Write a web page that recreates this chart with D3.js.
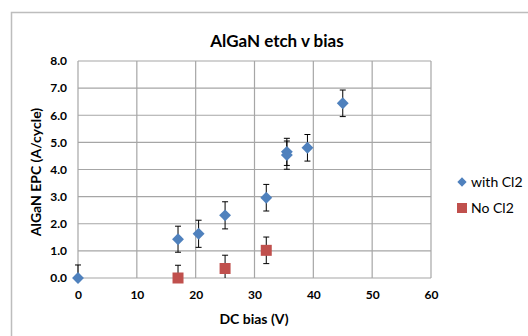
<!DOCTYPE html>
<html>
<head>
<meta charset="utf-8">
<script src="https://cdn.jsdelivr.net/npm/d3@7"></script>
<style>
  body { margin: 0; background: #fff; }
  svg { display: block; font-family: Lato, "Open Sans", sans-serif; }
</style>
</head>
<body>
<div id="chart"></div>
<script>
// with Cl2
const withBias = [0, 17, 20.5, 25, 32, 35.5, 35.5, 39, 45];
const withEpc  = [0, 1.43, 1.63, 2.31, 2.96, 4.65, 4.53, 4.8, 6.44];
const withErr  = [0.48, 0.48, 0.5, 0.5, 0.49, 0.5, 0.52, 0.49, 0.49];
// no Cl2
const noBias = [17, 25, 32];
const noEpc  = [0, 0.35, 1.02];
const noErr  = [0.47, 0.49, 0.49];

const xTicks = [0, 10, 20, 30, 40, 50, 60];
const yTicks = [0, 1, 2, 3, 4, 5, 6, 7, 8];

const W = 528, H = 336;
const margin = {top: 61, right: 97, bottom: 58, left: 78};
const width = W - margin.left - margin.right;
const height = H - margin.top - margin.bottom;

const svg = d3.select("#chart")
    .append("svg")
    .attr("width", W)
    .attr("height", H);

// outer chart frame
svg.append("rect")
    .attr("x", 11.5).attr("y", 12.5)
    .attr("width", 530).attr("height", 340)
    .attr("fill", "none")
    .attr("stroke", "#bdbdbd")
    .attr("stroke-width", 1.5);

svg.append("text")
    .attr("x", 277).attr("y", 47)
    .attr("text-anchor", "middle")
    .attr("font-size", 17).attr("font-weight", "bold")
    .text("AlGaN etch v bias");

const g = svg.append("g")
    .attr("transform", `translate(${margin.left},${margin.top})`);

const x = d3.scaleLinear().domain([0, 60]).range([0, width]);
const y = d3.scaleLinear().domain([0, 8]).range([height, 0]);

// grid
g.append("g").selectAll("line")
    .data(yTicks)
    .enter().append("line")
    .attr("x1", 0).attr("x2", width)
    .attr("y1", d => y(d)).attr("y2", d => y(d))
    .attr("stroke", "#a6a6a6").attr("stroke-width", 1.2);

g.append("g").selectAll("line")
    .data(xTicks)
    .enter().append("line")
    .attr("y1", 0).attr("y2", height)
    .attr("x1", d => x(d)).attr("x2", d => x(d))
    .attr("stroke", "#a6a6a6").attr("stroke-width", 1.2);

// axes (labels only, lines come from grid)
const xAxis = g.append("g")
    .attr("transform", `translate(0,${height})`)
    .call(d3.axisBottom(x).tickValues(xTicks).tickSize(0).tickPadding(12).tickFormat(d3.format("d")));
const yAxis = g.append("g")
    .call(d3.axisLeft(y).tickValues(yTicks).tickSize(0).tickPadding(11).tickFormat(d3.format(".1f")));
[xAxis, yAxis].forEach(a => {
    a.select(".domain").remove();
    a.selectAll("text").attr("font-size", 12).attr("font-weight", "bold")
        .attr("fill", "#000").attr("font-family", "Lato, 'Open Sans', sans-serif");
});

svg.append("text")
    .attr("x", 254).attr("y", 324)
    .attr("text-anchor", "middle")
    .attr("font-size", 14).attr("font-weight", "bold")
    .text("DC bias (V)");

svg.append("text")
    .attr("transform", "translate(41,172) rotate(-90)")
    .attr("text-anchor", "middle")
    .attr("font-size", 14).attr("font-weight", "bold")
    .text("AlGaN EPC (A/cycle)");

const clip = svg.append("defs").append("clipPath").attr("id", "plotclip")
    .append("rect").attr("x", -10).attr("y", -10).attr("width", width + 20).attr("height", height + 10);

function errorBars(bias, epc, err) {
    const eg = g.append("g").attr("clip-path", "url(#plotclip)");
    bias.forEach((b, i) => {
        const cx = x(b);
        const lo = y(epc[i] - err[i]), hi = y(epc[i] + err[i]);
        eg.append("line").attr("x1", cx).attr("x2", cx).attr("y1", lo).attr("y2", hi)
            .attr("stroke", "#000").attr("stroke-width", 1);
        [lo, hi].forEach(v => eg.append("line")
            .attr("x1", cx - 3).attr("x2", cx + 3).attr("y1", v).attr("y2", v)
            .attr("stroke", "#000").attr("stroke-width", 1));
    });
}
errorBars(withBias, withEpc, withErr);
errorBars(noBias, noEpc, noErr);

const diamond = d3.symbol().type(d3.symbolDiamond2).size(90);
const square = d3.symbol().type(d3.symbolSquare).size(121);

g.selectAll(".dia")
    .data(withBias.map((b, i) => [b, withEpc[i]]))
    .enter().append("path")
    .attr("d", diamond)
    .attr("transform", d => `translate(${x(d[0])},${y(d[1])})`)
    .attr("fill", "#4f81bd");

g.selectAll(".sq")
    .data(noBias.map((b, i) => [b, noEpc[i]]))
    .enter().append("path")
    .attr("d", square)
    .attr("transform", d => `translate(${x(d[0])},${y(d[1])})`)
    .attr("fill", "#c0504d");

// legend
const leg = svg.append("g");
leg.append("path").attr("d", d3.symbol().type(d3.symbolDiamond2).size(55))
    .attr("transform", "translate(462,182)").attr("fill", "#4f81bd");
leg.append("text").attr("x", 471).attr("y", 187).attr("font-size", 14).text("with Cl2");
leg.append("rect").attr("x", 457).attr("y", 203).attr("width", 10).attr("height", 10)
    .attr("fill", "#c0504d");
leg.append("text").attr("x", 471).attr("y", 213).attr("font-size", 14).text("No Cl2");
</script>
</body>
</html>
